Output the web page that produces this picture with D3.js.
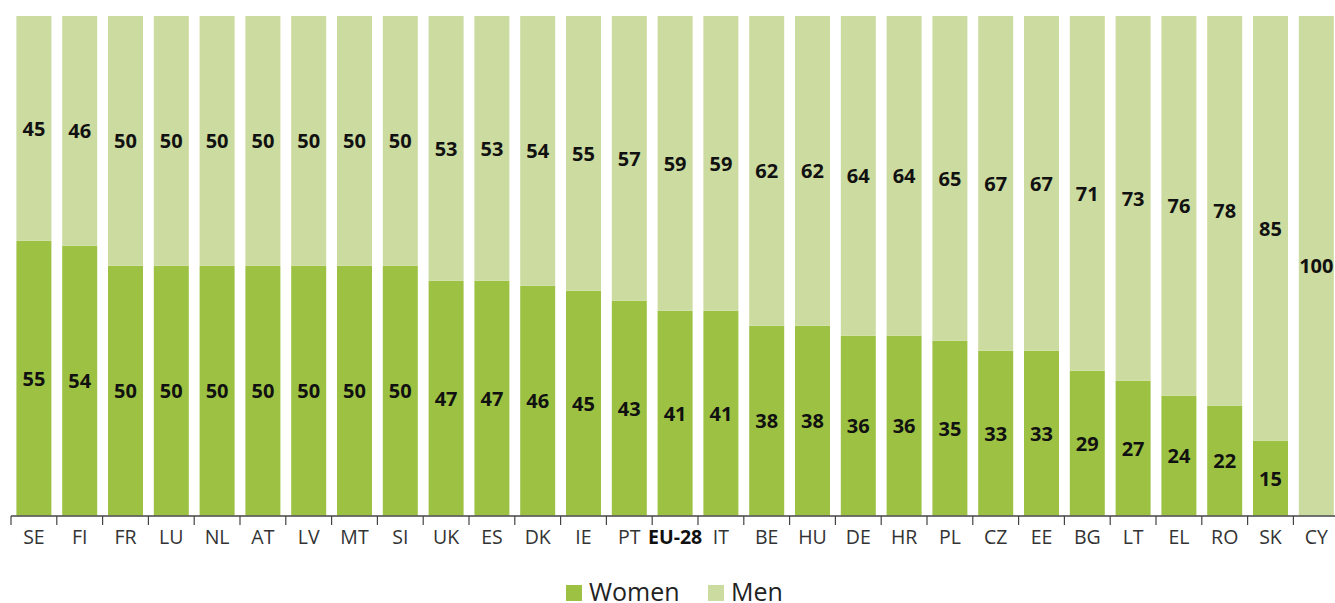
<!DOCTYPE html>
<html>
<head>
<meta charset="utf-8">
<script src="https://cdn.jsdelivr.net/npm/d3@7"></script>
<style>
  body { margin: 0; background: #fff; overflow: hidden; }
  svg text { font-family: "Open Sans", sans-serif; }
</style>
</head>
<body>
<div id="chart"></div>
<script>
var countries = ["SE", "FI", "FR", "LU", "NL", "AT", "LV", "MT", "SI", "UK", "ES", "DK", "IE", "PT", "EU-28",
    "IT", "BE", "HU", "DE", "HR", "PL", "CZ", "EE", "BG", "LT", "EL", "RO", "SK", "CY"];
var women = [55, 54, 50, 50, 50, 50, 50, 50, 50, 47, 47, 46, 45, 43, 41,
    41, 38, 38, 36, 36, 35, 33, 33, 29, 27, 24, 22, 15, 0];
var men = [45, 46, 50, 50, 50, 50, 50, 50, 50, 53, 53, 54, 55, 57, 59,
    59, 62, 62, 64, 64, 65, 67, 67, 71, 73, 76, 78, 85, 100];
var seriesNames = ["Women", "Men"];

var svgWidth = 1335;
var svgHeight = 603;
var colors = { Women: "#9dc243", Men: "#ccdb9f" };

var svg = d3.select("#chart")
    .append("svg")
    .attr("width", svgWidth)
    .attr("height", svgHeight)
    .style("display", "block");

// the plot runs a little past the right edge, as in the original
var x = d3.scaleBand()
    .domain(countries)
    .range([11, 11 + 29 * 45.8])
    .paddingInner(0.236)
    .paddingOuter(0.118);

var y = d3.scaleLinear()
    .domain([0, 100])
    .range([515.5, 16]);

var rows = countries.map(function(c, i) {
    return { country: c, Women: women[i], Men: men[i] };
});

var stacked = d3.stack().keys(seriesNames)(rows);

var layers = svg.selectAll(".layer")
    .data(stacked)
    .enter()
    .append("g")
    .attr("fill", d => colors[d.key]);

layers.selectAll("rect")
    .data(d => d)
    .enter()
    .append("rect")
    .attr("x", d => x(d.data.country))
    .attr("y", d => y(d[1]))
    .attr("width", x.bandwidth())
    .attr("height", d => y(d[0]) - y(d[1]));

layers.selectAll("text")
    .data(d => d.filter(p => p[1] - p[0] > 0))
    .enter()
    .append("text")
    .attr("x", d => x(d.data.country) + x.bandwidth() / 2)
    .attr("y", d => y((d[0] + d[1]) / 2) + 7.5)
    .attr("text-anchor", "middle")
    .attr("font-size", "20px")
    .attr("font-weight", "bold")
    .attr("fill", "#111")
    .text(d => d[1] - d[0]);

// axis
var axis = svg.append("g");
axis.append("line")
    .attr("x1", 11)
    .attr("x2", 1335)
    .attr("y1", 516)
    .attr("y2", 516)
    .attr("stroke", "#444")
    .attr("stroke-width", 1.5);

axis.selectAll(".tick")
    .data(countries)
    .enter()
    .append("line")
    .attr("x1", d => x(d) - x.step() * x.paddingInner() / 2)
    .attr("x2", d => x(d) - x.step() * x.paddingInner() / 2)
    .attr("y1", 516)
    .attr("y2", 525)
    .attr("stroke", "#444")
    .attr("stroke-width", 1.2);

axis.selectAll(".lbl")
    .data(countries)
    .enter()
    .append("text")
    .attr("x", d => x(d) + x.bandwidth() / 2)
    .attr("y", 544)
    .attr("text-anchor", "middle")
    .attr("font-size", "19.5px")
    .style("font-weight", d => d === "EU-28" ? "bold" : "normal")
    .style("fill", d => d === "EU-28" ? "#111" : "#333")
    .text(d => d);

// legend
var legendX = [566, 708];
var legend = svg.selectAll(".legend")
    .data(seriesNames)
    .enter()
    .append("g")
    .attr("transform", (d, i) => `translate(${legendX[i]}, 585)`);

legend.append("rect")
    .attr("width", 16)
    .attr("height", 16)
    .attr("fill", d => colors[d]);

legend.append("text")
    .attr("x", 23)
    .attr("y", 16)
    .attr("font-size", "25px")
    .attr("fill", "#222")
    .text(d => d);
</script>
</body>
</html>
